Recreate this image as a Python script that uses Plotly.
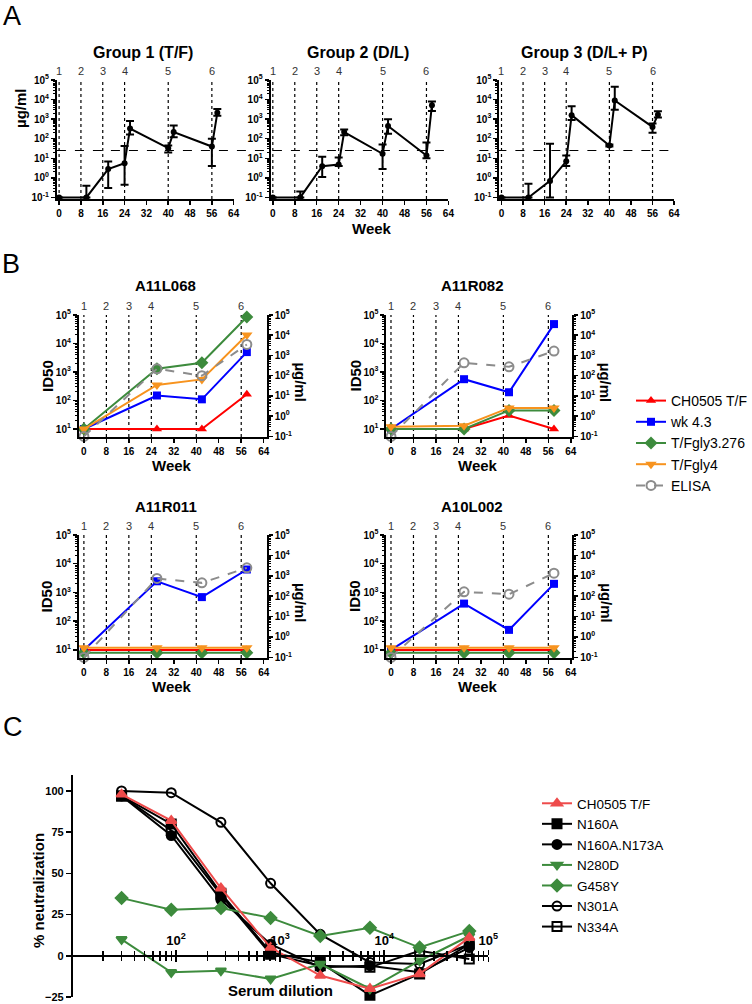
import plotly.graph_objects as go

W, H = 752, 1004
FONT = "Liberation Sans, Arial, sans-serif"

# ---------------- data ----------------
# panel A: binding antibody (ug/ml), mean with upper / lower error
weeks_a = [0, 10, 18, 24, 26, 40, 42, 56, 58]
g1_mean = [0.1, 0.1, 2.8, 5.6, 330, 33, 220, 40, 2100]
g1_high = [0.1, 0.4, 6.8, 42, 800, 45, 480, 100, 3300]
g1_low = [0.1, 0.1, 0.3, 0.45, 165, 20, 120, 4, 1500]
g2_mean = [0.1, 0.1, 3.9, 4.8, 220, 17, 450, 14, 5200]
g2_high = [0.1, 0.2, 12, 11, 300, 50, 1000, 65, 8000]
g2_low = [0.1, 0.1, 1.1, 4.0, 150, 2.8, 180, 10, 2600]
g3_mean = [0.1, 0.1, 0.7, 7, 1600, 45, 9000, 400, 1700]
g3_high = [0.1, 0.5, 55, 14, 4500, 50, 45000, 600, 2500]
g3_low = [0.1, 0.1, 0.1, 4, 900, 40, 3000, 200, 1200]
group_titles = ["Group 1 (T/F)", "Group 2 (D/L)", "Group 3 (D/L+ P)"]
elisa_cutoff = 25

immunization_weeks = [0, 8, 16, 24, 40, 56]
immunization_labels = ["1", "2", "3", "4", "5", "6"]
week_ticks = [0, 8, 16, 24, 32, 40, 48, 56, 64]

# panel B: ID50 per animal (left axis) and ELISA ug/ml (right axis)
animals = ["A11L068", "A11R082", "A11R011", "A10L002"]
weeks_b = [0, 26, 42, 58]
id50_ch0505 = [[10, 10, 10, 165], [10, 10, 30, 10], [10, 10, 10, 10], [10, 10, 10, 10]]
id50_wk43 = [[10, 150, 110, 5000], [10, 560, 195, 48000], [10, 2450, 690, 6300], [10, 410, 50, 2000]]
id50_gly3276 = [[10, 1300, 2100, 85000], [10, 10, 45, 45], [8, 8, 8, 8], [8, 8, 8, 8]]
id50_gly4 = [[10, 350, 550, 20000], [12, 13, 55, 55], [12, 12, 12, 12], [12, 12, 12, 12]]
elisa_ugml = [[0.1, 220, 100, 3500], [0.1, 435, 275, 1650], [0.1, 740, 450, 2450], [0.1, 163, 125, 1350]]

# panel C: % neutralization vs serum dilution
dilutions = [30, 90, 270, 810, 2430, 7290, 21870, 65610]
neut_ch0505 = [98, 82, 41, 5, -12, -20, -11, 11]
neut_n160a = [97, 80, 38, 2, -4, -24, -11, 7]
neut_n160a_n173a = [97, 73, 34, 7, -7, -6, -10, 5]
neut_n280d = [10, -10, -9, -14, -5, -20, -3, 12]
neut_g458y = [35, 28, 29, 23, 12, 17, 5, 15]
neut_n301a = [100, 99, 81, 44, 13, -4, -5, 7]
neut_n334a = [97, 76, 37, 1, -6, -7, 3, -2]
neut_ticks = [-25, 0, 25, 50, 75, 100]


def px(x):
    return x / W


def py(y):
    return 1 - y / H


def ref(kind, n):
    return kind if n == 1 else f"{kind}{n}"


def key(kind, n):
    return kind + ("axis" if n == 1 else f"axis{n}")


def log_ticks(lo, hi):
    vals = [10.0 ** e for e in range(lo, hi + 1)]
    text = [f"10<sup>{e}</sup>" for e in range(lo, hi + 1)]
    minor = [k * 10.0 ** e for e in range(lo, hi) for k in range(2, 10)]
    return vals, text, minor


fig = go.Figure()
annotations = []
shapes = []


def label(s, x, y, size, weight="normal", angle=0, color="black"):
    annotations.append(dict(
        text=s, x=px(x), y=py(y), xref="paper", yref="paper", showarrow=False,
        textangle=angle, xanchor="center", yanchor="middle",
        font=dict(size=size, weight=weight, color=color, family=FONT)))


def week_axis(n, ya, dom, rng):
    fig.update_layout(**{key("x", n): dict(
        domain=[px(dom[0]), px(dom[1])], range=rng, anchor=ya,
        tickvals=week_ticks, ticks="outside", ticklen=4, tickwidth=1.5, tickcolor="black",
        showline=True, linewidth=2, linecolor="black", showgrid=False, zeroline=False,
        tickfont=dict(size=10, weight="bold"))})


def log_axis(n, xa, dom, bottom, lo, hi, side="left", overlaying=None):
    vals, text, minor = log_ticks(lo, hi)
    ax = dict(
        type="log", domain=[py(dom[1]), py(dom[0])], range=[bottom, hi], anchor=xa, side=side,
        tickvals=vals, ticktext=text, ticks="outside", ticklen=4, tickwidth=1.5, tickcolor="black",
        showline=True, linewidth=2, linecolor="black", showgrid=False, zeroline=False,
        tickfont=dict(size=10, weight="bold"),
        minor=dict(tickvals=minor, ticks="outside", ticklen=2, tickwidth=1, tickcolor="black", showgrid=False))
    if overlaying:
        ax["overlaying"] = overlaying
    fig.update_layout(**{key("y", n): ax})


def immunizations(xa, ya):
    for w, lab in zip(immunization_weeks, immunization_labels):
        shapes.append(dict(type="line", xref=xa, yref=f"{ya} domain", x0=w, x1=w, y0=0, y1=1,
                           line=dict(color="black", width=1.2, dash="dot"), layer="below"))
        annotations.append(dict(text=lab, xref=xa, yref=f"{ya} domain", x=w, y=1,
                                yanchor="bottom", yshift=1, showarrow=False,
                                font=dict(size=11, color="#333333", family=FONT)))


# ---------------- panel A ----------------
a_x_dom = [(57, 234), (271, 449), (500, 675)]
a_series = [(g1_mean, g1_high, g1_low), (g2_mean, g2_high, g2_low), (g3_mean, g3_high, g3_low)]
for i, (mean, high, low) in enumerate(a_series):
    n = i + 1
    xa, ya = ref("x", n), ref("y", n)
    fig.add_trace(go.Scatter(
        x=weeks_a, y=mean, mode="lines+markers", xaxis=xa, yaxis=ya, showlegend=False, cliponaxis=False,
        line=dict(color="black", width=2), marker=dict(size=6, color="black"),
        error_y=dict(type="data", symmetric=False, color="black", thickness=2, width=4,
                     array=[h - m for h, m in zip(high, mean)],
                     arrayminus=[m - l for m, l in zip(mean, low)])))
    week_axis(n, ya, a_x_dom[i], [-0.8, 64])
    log_axis(n, xa, (80, 199), -1.08, -1, 5)
    immunizations(xa, ya)
    label(group_titles[i], (a_x_dom[i][0] + a_x_dom[i][1]) / 2 - 2, 53, 16, "bold")

shapes.append(dict(type="line", xref="paper", yref="y", x0=px(57), x1=px(450),
                   y0=elisa_cutoff, y1=elisa_cutoff, line=dict(color="black", width=1.2, dash="dash")))
shapes.append(dict(type="line", xref="paper", yref="y3", x0=px(480), x1=px(670),
                   y0=elisa_cutoff, y1=elisa_cutoff, line=dict(color="black", width=1.2, dash="dash")))
label("A", 12, 16, 27)
label("\u00b5g/ml", 20, 108, 15, "bold", -90)
label("Week", 372, 228, 15, "bold")

# ---------------- panel B ----------------
b_x_dom = [(79, 267), (387, 573), (79, 267), (387, 573)]
b_x_rng = [[-1.78, 65.05], [-1.6, 64.5], [-1.78, 65.05], [-1.6, 64.5]]
b_y_dom = [(315, 437), (315, 437), (535, 658), (535, 658)]
b_styles = [
    ("CH0505 T/F", id50_ch0505, "#ff0000", "triangle-up", 9),
    ("wk 4.3", id50_wk43, "#0000ff", "square", 8),
    ("T/Fgly3.276", id50_gly3276, "#3d8b3d", "diamond", 10),
    ("T/Fgly4", id50_gly4, "#f7931e", "triangle-down", 10),
]
for i, name in enumerate(animals):
    n = 4 + i
    xa, ya, yr = ref("x", n), ref("y", n), ref("y", 8 + i)
    for trace_name, values, color, symbol, size in b_styles:
        fig.add_trace(go.Scatter(
            x=weeks_b, y=values[i], name=trace_name, mode="lines+markers", xaxis=xa, yaxis=ya,
            showlegend=(i == 0), legend="legend", cliponaxis=False,
            line=dict(color=color, width=2), marker=dict(symbol=symbol, size=size, color=color)))
    fig.add_trace(go.Scatter(
        x=weeks_b, y=elisa_ugml[i], name="ELISA", mode="lines+markers", xaxis=xa, yaxis=yr,
        showlegend=(i == 0), legend="legend", cliponaxis=False,
        line=dict(color="#8c8c8c", width=2, dash="dash"),
        marker=dict(symbol="circle-open", size=9, color="#8c8c8c", line=dict(width=2))))
    week_axis(n, ya, b_x_dom[i], b_x_rng[i])
    log_axis(n, xa, b_y_dom[i], 0.72, 1, 5)
    log_axis(8 + i, xa, b_y_dom[i], -1.03, -1, 5, side="right", overlaying=ya)
    immunizations(xa, ya)
    x0, x1 = b_x_dom[i]
    y0, y1 = b_y_dom[i]
    label(name, (x0 + x1) / 2 - 7, y0 - 29, 15, "bold")
    label("ID50", x0 - 32, (y0 + y1) / 2, 15, "bold", -90)
    label("\u00b5g/ml", x1 + 34, (y0 + y1) / 2 + 6, 15, "bold", 90)
    label("Week", (x0 + x1) / 2 - 1, y1 + 28, 15, "bold")

label("B", 11, 264, 27)

# ---------------- panel C ----------------
c_styles = [
    ("CH0505 T/F", neut_ch0505, "#ee4b4b", "triangle-up"),
    ("N160A", neut_n160a, "black", "square"),
    ("N160A.N173A", neut_n160a_n173a, "black", "circle"),
    ("N280D", neut_n280d, "#3d8b3d", "triangle-down"),
    ("G458Y", neut_g458y, "#3d8b3d", "diamond"),
    ("N301A", neut_n301a, "black", "circle-open"),
    ("N334A", neut_n334a, "black", "square-open"),
]
draw_order = [1, 2, 5, 6, 3, 4, 0]
for k in draw_order:
    trace_name, values, color, symbol = c_styles[k]
    fig.add_trace(go.Scatter(
        x=dilutions, y=values, name=trace_name, mode="lines+markers", xaxis="x8", yaxis="y12",
        legend="legend2", legendrank=k, cliponaxis=False,
        line=dict(color=color, width=2),
        marker=dict(symbol=symbol, size=9, color=color, line=dict(color=color, width=2))))
fig.add_trace(go.Scatter(x=[], y=[], xaxis="x9", yaxis="y12", showlegend=False))

c_top, c_bottom, c_left, c_right = 775, 997, 72, 489
c_range = [-25, 109.7]
zero_y = c_bottom - (0 - c_range[0]) / (c_range[1] - c_range[0]) * (c_bottom - c_top)
dec_vals = [100, 1000, 10000, 100000]
dec_text = ["10<sup>2</sup>", "10<sup>3</sup>", "10<sup>4</sup>", "10<sup>5</sup>"]
c_minor = [k * 10.0 ** e for e in range(1, 5) for k in range(2, 10)]
c_xaxis = dict(
    type="log", range=[1, 5], domain=[px(c_left), px(c_right)], anchor="free", position=py(zero_y),
    showline=True, linewidth=2, linecolor="black", showgrid=False, zeroline=False,
    tickvals=dec_vals, ticks="outside", ticklen=5, tickwidth=1.5, tickcolor="black",
    minor=dict(tickvals=c_minor, ticks="outside", ticklen=4, tickwidth=1.5, tickcolor="black", showgrid=False))
fig.update_layout(
    xaxis8=dict(c_xaxis, side="top", ticktext=dec_text, tickfont=dict(size=13, weight="bold")),
    xaxis9=dict(c_xaxis, side="bottom", overlaying="x8", showticklabels=False),
    yaxis12=dict(
        range=c_range, domain=[py(c_bottom), py(c_top)], anchor="free", position=px(c_left),
        tickvals=neut_ticks, ticks="outside", ticklen=5, tickwidth=1.5, tickcolor="black",
        showline=True, linewidth=2, linecolor="black", showgrid=False, zeroline=False,
        tickfont=dict(size=11, weight="bold")))
label("C", 13, 727, 27)
label("% neutralization", 38, 890, 15, "bold", -90)
label("Serum dilution", 281, 990, 15, "bold")

fig.update_layout(
    template="none",
    width=W, height=H, margin=dict(l=0, r=0, t=0, b=0),
    paper_bgcolor="white", plot_bgcolor="white",
    font=dict(family=FONT, color="black"),
    annotations=annotations, shapes=shapes,
    legend=dict(x=px(632), y=py(385), xanchor="left", yanchor="top", bgcolor="rgba(0,0,0,0)",
                font=dict(size=14, family=FONT), itemwidth=30, tracegroupgap=0),
    legend2=dict(x=px(537), y=py(788), xanchor="left", yanchor="top", bgcolor="rgba(0,0,0,0)",
                 font=dict(size=13.5, family=FONT), itemwidth=30, tracegroupgap=0),
)

# the page body has a default 8px margin; drop it so the figure fills the window
fig.write_html("out.html", config={"displayModeBar": False, "staticPlot": True},
               post_script="document.body.style.margin='0';")
